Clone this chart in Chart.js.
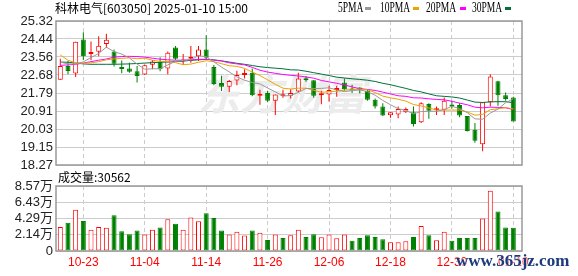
<!DOCTYPE html>
<html>
<head>
<meta charset="utf-8">
<script src="https://cdn.jsdelivr.net/npm/chart.js@4.4.1/dist/chart.umd.min.js"></script>
<style>
  html, body { margin: 0; padding: 0; background: #fff; }
  #wrap { position: relative; width: 578px; height: 276px; overflow: hidden; font-family: "Noto Sans CJK SC", sans-serif; }
  canvas { position: absolute; left: 0; }
  #price { top: 0; }
  #vol { top: 168px; }
  .txt { position: absolute; font-size: 12px; line-height: 14px; color: #000; white-space: nowrap; }
  .lg { position: absolute; top: 0; font: 14px/16px "Liberation Serif", serif; color: #000; transform: scaleX(0.68); transform-origin: 0 0; white-space: nowrap; }
  .sw { position: absolute; top: 7px; width: 6px; height: 3px; }
  #site { position: absolute; left: 456px; top: 251px; font: bold 17px/20px "Liberation Serif", serif; color: #1d3b7c; text-shadow: 0 0 2px #fff, 0 0 2px #fff; }
</style>
</head>
<body>
<div id="wrap">
  <canvas id="price" width="578" height="170"></canvas>
  <canvas id="vol" width="578" height="108"></canvas>
  <div class="txt" style="left:55px;top:1px">科林电气[603050] 2025-01-10 15:00</div>
  <div class="lg" style="left:338px">5PMA</div><div class="sw" style="left:365px;background:#999999"></div>
  <div class="lg" style="left:380px">10PMA</div><div class="sw" style="left:413px;background:#f0a000"></div>
  <div class="lg" style="left:426px">20PMA</div><div class="sw" style="left:460px;background:#ff00ff"></div>
  <div class="lg" style="left:472px">30PMA</div><div class="sw" style="left:505px;background:#00703c"></div>
  <div class="txt" id="volTitle" style="left:58px;top:170px"></div>
  <div id="site">www.365jz.com</div>
</div>
<script>
// 日期（交易日）
const dates = ['10-18','10-21','10-22','10-23','10-24','10-25','10-28','10-29','10-30','10-31','11-01',
  '11-04','11-05','11-06','11-07','11-08','11-11','11-12','11-13','11-14','11-15','11-18','11-19','11-20','11-21','11-22','11-25','11-26','11-27','11-28','11-29',
  '12-02','12-03','12-04','12-05','12-06','12-09','12-10','12-11','12-12','12-13','12-16','12-17','12-18','12-19','12-20','12-23','12-24','12-25','12-26','12-27','12-30','12-31',
  '01-02','01-03','01-06','01-07','01-08','01-09','01-10'];
const dateTicks = ['10-23','11-04','11-14','11-26','12-06','12-18','12-30','01-10'];

const open = [22.44,23.12,22.75,24.41,23.70,23.81,24.19,23.83,23.00,22.99,
  22.86,22.70,23.18,23.31,22.99,24.02,23.34,23.47,23.60,23.93,
  23.07,22.28,22.10,22.41,22.68,22.79,21.66,21.79,21.42,21.63,
  21.66,21.87,22.52,22.42,21.69,21.72,21.94,22.31,21.95,22.06,
  21.90,21.46,21.14,20.70,20.74,20.85,20.85,20.36,21.26,20.95,
  20.98,21.21,21.21,20.67,19.99,19.28,21.34,22.37,21.69,21.58];
const high = [23.47,23.36,24.30,24.77,24.32,24.57,24.70,23.93,23.39,23.28,
  23.12,23.18,23.41,23.54,23.83,24.09,23.70,24.09,24.09,24.62,
  23.17,22.64,22.43,22.88,22.96,22.99,21.95,21.90,21.72,21.95,
  21.98,22.79,22.63,22.42,21.90,22.15,22.15,22.50,22.20,22.08,
  21.98,21.53,21.29,20.85,21.13,21.09,21.14,21.34,21.29,21.14,
  21.58,21.42,21.30,20.67,20.33,21.34,22.71,22.40,21.82,21.61];
const low = [22.44,22.71,22.58,23.41,23.41,23.60,24.01,23.09,22.76,22.79,
  22.31,22.68,22.96,22.86,22.71,23.41,23.17,23.28,23.36,23.44,
  22.18,21.89,21.85,22.18,22.50,21.64,21.22,21.34,20.72,21.56,
  21.53,21.82,22.34,21.56,21.24,21.38,21.61,21.90,21.79,21.77,
  21.42,21.04,20.67,20.58,20.56,20.82,20.15,20.33,20.53,20.72,
  20.72,21.04,20.61,19.91,19.36,18.94,21.14,21.17,21.42,20.40];
const close = [23.12,22.87,24.30,23.60,23.78,24.11,24.40,23.23,22.97,22.83,
  22.63,23.15,23.34,22.96,23.77,23.47,23.41,23.52,23.93,23.52,
  22.23,22.10,22.38,22.68,22.71,21.69,21.72,21.42,21.72,21.69,
  21.79,22.50,22.42,21.66,21.72,21.94,21.98,21.98,21.92,21.95,
  21.46,21.14,20.69,20.85,21.01,21.01,20.28,21.29,20.93,20.98,
  21.42,21.14,20.69,19.94,19.46,21.34,22.60,21.69,21.50,20.40];

const ma5 = [23.30,23.22,23.22,23.32,23.53,23.73,24.04,23.82,23.70,23.51,
  23.21,22.96,22.98,22.98,23.17,23.34,23.39,23.43,23.62,23.57,
  23.32,23.06,22.83,22.58,22.42,22.31,22.24,22.04,21.85,21.65,
  21.67,21.82,22.02,22.01,22.02,22.05,21.94,21.86,21.91,21.95,
  21.86,21.69,21.43,21.22,21.03,20.94,20.77,20.89,20.90,20.90,
  20.98,21.15,21.03,20.83,20.53,20.51,20.81,21.01,21.32,21.51];
const ma10 = [23.66,23.40,23.27,23.25,23.27,23.33,23.42,23.46,23.49,23.52,
  23.47,23.50,23.40,23.34,23.34,23.28,23.18,23.21,23.30,23.37,
  23.33,23.23,23.13,23.10,23.00,22.82,22.65,22.44,22.22,22.03,
  21.99,22.03,22.03,21.93,21.83,21.86,21.88,21.94,21.96,21.99,
  21.95,21.82,21.64,21.56,21.49,21.40,21.23,21.16,21.06,20.96,
  20.96,20.96,20.96,20.87,20.71,20.75,20.98,21.02,21.08,21.02];
const ma20 = [23.15,23.17,23.20,23.26,23.33,23.40,23.46,23.55,23.58,23.59,
  23.58,23.55,23.50,23.45,23.42,23.40,23.40,23.42,23.44,23.45,
  23.40,23.36,23.27,23.22,23.17,23.05,22.91,22.82,22.76,22.70,
  22.66,22.63,22.58,22.52,22.41,22.34,22.27,22.19,22.09,22.01,
  21.97,21.92,21.84,21.75,21.66,21.63,21.56,21.55,21.51,21.48,
  21.46,21.39,21.30,21.22,21.10,21.07,21.10,21.09,21.07,20.99];
const ma30 = [23.31,23.30,23.26,23.22,23.20,23.20,23.20,23.20,23.21,23.22,
  23.24,23.26,23.28,23.30,23.31,23.33,23.36,23.39,23.42,23.44,
  23.42,23.37,23.31,23.25,23.20,23.14,23.08,23.04,23.01,22.98,
  22.93,22.92,22.86,22.79,22.72,22.65,22.57,22.53,22.49,22.46,
  22.42,22.36,22.27,22.20,22.11,22.02,21.92,21.85,21.75,21.66,
  21.63,21.60,21.55,21.45,21.35,21.33,21.36,21.37,21.37,21.32];

// 成交量（手）
const volume = [31700,37200,54300,39700,28000,31700,30500,47200,25900,22100,
  27100,21700,28000,30900,41800,35900,28000,44300,39300,49700,
  43400,27100,21700,25500,20500,27100,24200,14600,21700,17100,
  20700,28000,18400,22100,18000,21700,16700,21700,13400,17100,
  20900,18400,15500,11700,11700,12900,18400,33000,20900,14200,
  25500,13400,17100,17100,17100,43000,79300,52200,30900,30562];
// 量柱红(1)/绿(0)
const volUp = [1,0,1,0,1,1,1,0,0,0, 0,1,1,0,1,0,1,1,1,0, 0,0,1,1,1,0,1,0,1,0,
  1,1,0,0,1,1,1,1,0,0, 0,0,0,1,1,1,0,1,0,1, 1,0,0,0,0,1,1,0,0,0];

const priceTicks = [18.27, 19.15, 20.03, 20.91, 21.79, 22.68, 23.56, 24.44, 25.32];
const volTicks = [0, 2.14, 4.29, 6.43, 8.57]; // 万

const RED = '#ff0000', GREEN = '#008000';
const idx = dates.map((d, i) => i);
const up = close.map((c, i) => c >= open[i]);
const tickIdx = dateTicks.map(d => dates.indexOf(d));

document.getElementById('volTitle').textContent = '成交量:' + volume[volume.length - 1];

const frame = {
  id: 'frame',
  afterDatasetsDraw(chart) {
    const { ctx, chartArea: a } = chart;
    ctx.save();
    ctx.strokeStyle = '#999999';
    ctx.lineWidth = 1.5;
    ctx.strokeRect(a.left, a.top, a.right - a.left, a.bottom - a.top);
    ctx.restore();
  }
};

// 背景水印
const logo = {
  id: 'logo',
  beforeDatasetsDraw(chart) {
    const { ctx } = chart;
    ctx.save();
    ctx.font = 'italic bold 42px "Noto Sans CJK SC"';
    ctx.fillStyle = '#ececec';
    ctx.fillText('东方财富', 198, 110);
    ctx.restore();
  }
};

// 去掉刻度文字溢出带来的额外边距
function noPad(s) {
  s.paddingTop = 0;
  s.paddingBottom = 0;
  s.paddingLeft = 0;
  s.paddingRight = 0;
}

function xAxis(labels) {
  return {
    type: 'linear',
    min: -0.56,
    max: 60.13,
    offset: false,
    afterBuildTicks: s => { s.ticks = tickIdx.map(v => ({ value: v })); },
    afterFit: s => { noPad(s); if (!labels) s.height = 0; },
    grid: { color: '#cccccc', drawTicks: false, offset: false },
    border: { display: false, dash: [4, 3] },
    ticks: {
      display: labels,
      color: RED,
      padding: 4,
      autoSkip: false,
      maxRotation: 0,
      font: { family: 'Liberation Sans', size: 12 },
      callback: v => dates[v]
    }
  };
}

function maLine(vals, color) {
  return {
    type: 'line',
    order: 0,
    data: idx.map(i => ({ x: i, y: vals[i] })),
    borderColor: color,
    borderWidth: 1,
    pointRadius: 0,
    fill: false,
    tension: 0
  };
}

const common = {
  responsive: false,
  animation: false,
  events: [],
  plugins: { legend: { display: false }, tooltip: { enabled: false } }
};

new Chart(document.getElementById('price'), {
  type: 'bar',
  data: {
    datasets: [
      maLine(ma5, '#999999'),
      maLine(ma10, '#f0a000'),
      maLine(ma20, '#ff00ff'),
      maLine(ma30, '#00703c'),
      {
        order: 1,
        data: idx.map(i => ({ x: i, y: [open[i], close[i]] })),
        backgroundColor: up.map(u => u ? '#ffffff' : GREEN),
        borderColor: up.map(u => u ? RED : GREEN),
        borderWidth: 1,
        borderSkipped: false,
        barThickness: 5,
        minBarLength: 2,
        grouped: false,
        inflateAmount: 0
      },
      {
        order: 2,
        data: idx.map(i => ({ x: i, y: [low[i], high[i]] })),
        backgroundColor: up.map(u => u ? RED : GREEN),
        borderWidth: 0,
        barThickness: 1,
        grouped: false,
        inflateAmount: 0
      }
    ]
  },
  options: {
    ...common,
    layout: { padding: { left: 0, right: 56, top: 21, bottom: 5 } },
    scales: {
      x: xAxis(false),
      y: {
        min: priceTicks[0],
        max: priceTicks[priceTicks.length - 1],
        afterBuildTicks: s => { s.ticks = priceTicks.map(v => ({ value: v })); },
        afterFit: s => { s.width = 56; noPad(s); },
        grid: { color: '#cccccc', drawTicks: false },
        border: { display: false },
        ticks: {
          color: '#222222',
          padding: 3,
          autoSkip: false,
          font: { family: 'Liberation Sans', size: 13 },
          callback: v => v.toFixed(2)
        }
      }
    }
  },
  plugins: [logo, frame]
});

new Chart(document.getElementById('vol'), {
  type: 'bar',
  data: {
    datasets: [{
      data: idx.map(i => ({ x: i, y: volume[i] })),
      backgroundColor: volUp.map(u => u ? '#ffffff' : GREEN),
      borderColor: volUp.map(u => u ? RED : GREEN),
      borderWidth: 1,
      borderSkipped: false,
      barThickness: 5,
      grouped: false,
      inflateAmount: 0
    }]
  },
  options: {
    ...common,
    layout: { padding: { left: 0, right: 56, top: 18, bottom: 2.6 } },
    scales: {
      x: xAxis(true),
      y: {
        min: 0,
        max: volTicks[volTicks.length - 1] * 10000,
        afterBuildTicks: s => { s.ticks = volTicks.map(v => ({ value: v * 10000 })); },
        afterFit: s => { s.width = 56; noPad(s); },
        grid: { color: '#cccccc', drawTicks: false },
        border: { display: false },
        ticks: {
          color: '#222222',
          padding: 3,
          autoSkip: false,
          font: { family: 'Liberation Sans, Noto Sans CJK SC', size: 13 },
          callback: v => v === 0 ? '0' : (v / 10000).toFixed(2) + '万'
        }
      }
    }
  },
  plugins: [frame]
});
</script>
</body>
</html>
